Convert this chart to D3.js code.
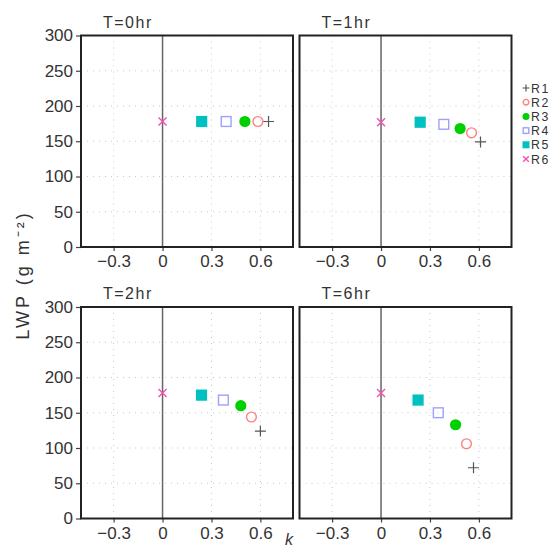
<!DOCTYPE html>
<html>
<head>
<meta charset="utf-8">
<script src="https://cdn.jsdelivr.net/npm/d3@7"></script>
<style>
  body { margin: 0; background: #fff; }
  text { font-family: "Liberation Sans", Arial, sans-serif; fill: #333; }
</style>
</head>
<body>
<script>
// data
const series = ["R1", "R2", "R3", "R4", "R5", "R6"];
const titles = ["T=0hr", "T=1hr", "T=2hr", "T=6hr"];
const kT0 = [0.65, 0.585, 0.505, 0.39, 0.24, 0];
const lwpT0 = [178, 178, 178, 178, 178, 178];
const kT1 = [0.61, 0.555, 0.485, 0.385, 0.24, 0];
const lwpT1 = [149, 162, 168, 174, 177, 177];
const kT2 = [0.60, 0.545, 0.48, 0.373, 0.239, 0];
const lwpT2 = [124, 144, 160, 168, 175, 178];
const kT6 = [0.567, 0.524, 0.457, 0.351, 0.227, 0];
const lwpT6 = [72, 106, 133, 150, 168, 178];
const xTicks = [-0.3, 0, 0.3, 0.6];
const yTicks = [0, 50, 100, 150, 200, 250, 300];

const kAll = [kT0, kT1, kT2, kT6];
const lwpAll = [lwpT0, lwpT1, lwpT2, lwpT6];

const w = 559, h = 547;
const pw = 212, ph = 211.5;
const panels = [
  {x: 81, y: 35.5}, {x: 299.5, y: 35.5},
  {x: 81, y: 307}, {x: 299.5, y: 307}
];

const colors = {R1: "#555", R2: "#ff8080", R3: "#00d000", R4: "#9da0ff", R5: "#00c0c0", R6: "#f050b0"};

const xScale = d3.scaleLinear().domain([-0.5, 0.8]).range([0, pw]);
const yScale = d3.scaleLinear().domain([0, 300]).range([ph, 0]);

// marker drawing
function drawMarker(g, name, s) {
  const c = colors[name];
  if (name === "R1") {
    g.append("path").attr("d", `M${-s},0H${s}M0,${-s}V${s}`).attr("stroke", c).attr("stroke-width", 1.2).attr("fill", "none");
  } else if (name === "R2") {
    g.append("circle").attr("r", s - 0.7).attr("fill", "none").attr("stroke", c).attr("stroke-width", 1.4);
  } else if (name === "R3") {
    g.append("circle").attr("r", s).attr("fill", c);
  } else if (name === "R4") {
    g.append("rect").attr("x", -s + 0.7).attr("y", -s + 0.7).attr("width", 2 * s - 1.4).attr("height", 2 * s - 1.4)
      .attr("fill", "none").attr("stroke", c).attr("stroke-width", 1.4);
  } else if (name === "R5") {
    g.append("rect").attr("x", -s).attr("y", -s).attr("width", 2 * s).attr("height", 2 * s).attr("fill", c);
  } else {
    const d = s * 0.8;
    g.append("path").attr("d", `M${-d},${-d}L${d},${d}M${-d},${d}L${d},${-d}`).attr("stroke", c).attr("stroke-width", 1.4).attr("fill", "none");
  }
}

const svg = d3.select("body").append("svg").attr("width", w).attr("height", h);

panels.forEach((p, i) => {
  const g = svg.append("g").attr("transform", `translate(${p.x},${p.y})`);

  // grid
  g.selectAll(".vgrid").data(xTicks.filter(t => t !== 0)).enter().append("line")
    .attr("x1", d => xScale(d)).attr("x2", d => xScale(d)).attr("y1", 0).attr("y2", ph)
    .attr("stroke", "#c8c8c8").attr("stroke-dasharray", "1,5");
  g.selectAll(".hgrid").data(yTicks.slice(1, -1)).enter().append("line")
    .attr("x1", 0).attr("x2", pw).attr("y1", d => yScale(d)).attr("y2", d => yScale(d))
    .attr("stroke", "#c8c8c8").attr("stroke-dasharray", "1,5");

  // zero line
  g.append("line").attr("x1", xScale(0)).attr("x2", xScale(0)).attr("y1", 0).attr("y2", ph)
    .attr("stroke", "#666").attr("stroke-width", 1.5);

  // axes
  const xAxis = g.append("g").attr("transform", `translate(0,${ph})`)
    .call(d3.axisBottom(xScale).tickValues(xTicks).tickSize(4).tickPadding(4)
      .tickFormat(d => d === 0 ? "0" : d3.format(".1f")(d).replace("-", "\u2212")));
  xAxis.select(".domain").remove();
  xAxis.selectAll("line").attr("stroke", "#444").attr("stroke-width", 1.2);
  xAxis.selectAll("text").attr("font-size", 17).attr("font-family", "Liberation Sans, Arial, sans-serif").attr("fill", "#333");

  if (i % 2 === 0) {
    const yAxis = g.append("g")
      .call(d3.axisLeft(yScale).tickValues(yTicks).tickSize(5).tickPadding(3));
    yAxis.select(".domain").remove();
    yAxis.selectAll("line").attr("stroke", "#444").attr("stroke-width", 1.2);
    yAxis.selectAll("text").attr("font-size", 17).attr("font-family", "Liberation Sans, Arial, sans-serif").attr("fill", "#333");
  }

  // frame
  g.append("rect").attr("width", pw).attr("height", ph)
    .attr("fill", "none").attr("stroke", "#222").attr("stroke-width", 2);

  // title
  g.append("text").attr("x", 22).attr("y", -8).attr("font-size", 16)
    .attr("letter-spacing", 1.5).text(titles[i]);

  // points
  series.forEach((name, j) => {
    const m = g.append("g")
      .attr("transform", `translate(${xScale(kAll[i][j])},${yScale(lwpAll[i][j])})`);
    drawMarker(m, name, name === "R1" ? 5.5 : name === "R6" ? 5 : 5.6);
  });
});

// legend
const legend = svg.append("g").attr("transform", "translate(526,88)");
series.forEach((name, j) => {
  const row = legend.append("g").attr("transform", `translate(0,${j * 14.2})`);
  drawMarker(row, name, 3.5);
  row.append("text").attr("x", 5).attr("y", 4.6).attr("font-size", 12.3)
    .attr("letter-spacing", 1.5).text(name);
});

// axis titles
svg.append("text")
  .attr("transform", "translate(29,275) rotate(-90)")
  .attr("text-anchor", "middle").attr("font-size", 18).attr("letter-spacing", 3)
  .text("LWP (g m\u207B\u00B2)");

svg.append("text").attr("x", 285).attr("y", 545)
  .attr("font-size", 16).attr("font-style", "italic").text("k");
</script>
</body>
</html>
